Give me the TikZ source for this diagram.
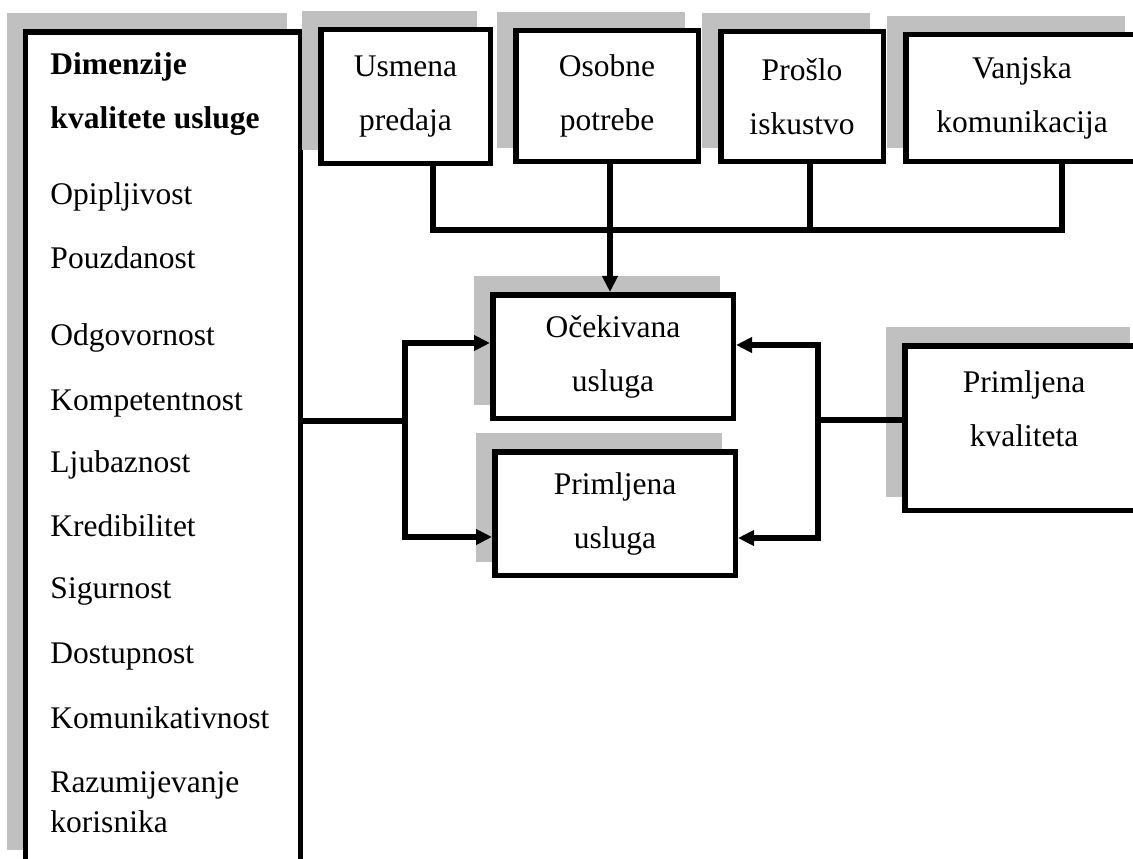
\documentclass[tikz,border=0pt]{standalone}
\usepackage{fontspec}
\setmainfont{Liberation Serif}
\usepackage{tikz}
\usetikzlibrary{arrows.meta,shadows}
\definecolor{shadowgray}{RGB}{192,192,192}
\tikzstyle{box}=[draw,line width=2.2pt,fill=white,inner sep=0pt,align=center,
    general shadow={fill=shadowgray,draw=shadowgray,line width=2.2pt,shadow xshift=-6.4pt,shadow yshift=6.4pt}]
\tikzstyle{plain}=[inner sep=0pt,align=center]
\tikzstyle{item}=[anchor=base west,inner sep=0pt]
\tikzstyle{edge}=[draw,line width=2.2pt]
\tikzstyle{link}=[edge,-{Triangle[length=6.4pt,width=6pt]}]

\begin{document}
\begin{tikzpicture}[x=0.4pt,y=-0.4pt,font=\fontsize{12.6}{21.6}\selectfont]
    \useasboundingbox (0,0) rectangle (1133,859);
    % First the big box with the dimensions
    \node[box,minimum width=109.8pt,minimum height=332.4pt] (dim) at (163,447.4) {};
    \node[item,font=\fontsize{12.6}{21.6}\selectfont\bfseries] (head1) at (50,75) {Dimenzije};
    \node[item,font=\fontsize{12.6}{21.6}\selectfont\bfseries] (head2) at (50,128) {kvalitete usluge};
    \foreach \y/\name [count=\i] in {205/Opipljivost, 268/Pouzdanost, 345/Odgovornost,
        410/Kompetentnost, 472/Ljubaznost, 536/Kredibilitet, 598/Sigurnost,
        663/Dostupnost, 728/Komunikativnost, 792/Razumijevanje, 832/korisnika}
        \node[item] (item\i) at (50,\y) {\name};
    % Then the other boxes
    \foreach \pos/\name/\w/\h/\txt in {(405.5,96.5)/usmena/67.8pt/53.4pt/{Usmena\\predaja},
        (607,96)/osobne/73pt/52.2pt/{Osobne\\potrebe},
        (802,96.5)/proslo/65pt/51.8pt/{Prošlo\\iskustvo},
        (1022,98)/vanjska/93pt/50.6pt/{Vanjska\\komunikacija},
        (613,356.5)/ocek/96.2pt/49.4pt/{Očekivana\\usluga},
        (615,513.5)/prim/96.2pt/49.4pt/{Primljena\\usluga}}
        \node[box,minimum width=\w,minimum height=\h] (\name) at \pos {\txt};
    \node[box,minimum width=95.4pt,minimum height=65.8pt] (kval) at (1024,428) {};
    \node[plain,yshift=7.6pt] (kvaltext) at (kval) {Primljena\\kvaliteta};
    % Points where the lines meet
    \coordinate (b1) at (433,230);
    \coordinate (b2) at (610,230);
    \coordinate (b3) at (810,230);
    \coordinate (b4) at (1062,230);
    \coordinate (lj) at (405,421);
    \coordinate (lt) at (405,343);
    \coordinate (lb) at (405,537);
    \coordinate (rj) at (818,420);
    \coordinate (rt) at (818,345);
    \coordinate (rb) at (818,538);
    % Connect the boxes
    \path[edge] (usmena.south -| b1) -- (b1) -- (b4) -- (vanjska.south -| b4);
    \path[edge] (proslo.south -| b3) -- (b3);
    \path[link] (osobne.south -| b2) -- (ocek.north -| b2);
    \path[edge] (dim.east |- lj) -- (lj);
    \path[link] (lj) -- (lt) -- (lt -| ocek.west);
    \path[link] (lj) -- (lb) -- (lb -| prim.west);
    \path[edge] (kval.west |- rj) -- (rj);
    \path[link] (rj) -- (rt) -- (rt -| ocek.east);
    \path[link] (rj) -- (rb) -- (rb -| prim.east);
\end{tikzpicture}
\end{document}
